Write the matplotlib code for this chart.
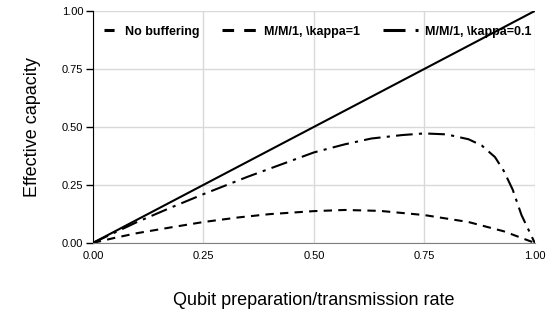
import matplotlib.pyplot as plt

plt.rcParams["font.family"] = ["Liberation Sans", "DejaVu Sans"]

# effective capacity vs. qubit rate
rate_nobuf = [0.0, 1.0]
cap_nobuf = [0.0, 1.0]

rate_k1 = [0.0, 0.05, 0.1, 0.18, 0.25, 0.33, 0.4, 0.5, 0.57, 0.65, 0.75, 0.85, 0.93, 1.0]
cap_k1 = [0.0, 0.022, 0.042, 0.068, 0.09, 0.11, 0.124, 0.137, 0.142, 0.138, 0.12, 0.09, 0.05, 0.0]

rate_k01 = [0.0, 0.05, 0.1, 0.18, 0.25, 0.35, 0.45, 0.5, 0.57, 0.63, 0.7, 0.75, 0.8, 0.85,
            0.88, 0.91, 0.93, 0.95, 0.97, 1.0]
cap_k01 = [0.0, 0.045, 0.09, 0.155, 0.21, 0.285, 0.355, 0.39, 0.425, 0.45, 0.465, 0.472,
           0.468, 0.447, 0.42, 0.37, 0.31, 0.23, 0.12, 0.0]

ticks = [0.0, 0.25, 0.5, 0.75, 1.0]

fig = plt.figure(figsize=(5.53, 3.23), dpi=100)
ax = fig.add_axes([0.168, 0.248, 0.799, 0.718])

ax.plot(rate_nobuf, cap_nobuf, color="black", lw=1.5, label="No buffering")
ax.plot(rate_k1, cap_k1, color="black", lw=1.5, ls=(0, (4, 3)), label="M/M/1, \\kappa=1")
ax.plot(rate_k01, cap_k01, color="black", lw=1.5, ls=(0, (8, 3, 1.5, 3)),
        label="M/M/1, \\kappa=0.1")

ax.set_xlim(0, 1)
ax.set_ylim(0, 1)
ax.set_xticks(ticks)
ax.set_yticks(ticks)
ax.set_xticklabels([f"{t:.2f}" for t in ticks])
ax.set_yticklabels([f"{t:.2f}" for t in ticks])
ax.grid(color="#d9d9d9", lw=1)
ax.set_axisbelow(True)

for s in ["top", "right"]:
    ax.spines[s].set_visible(False)
ax.spines["left"].set_color("black")
ax.spines["bottom"].set_color("#808080")
ax.tick_params(axis="y", length=5, width=1, labelsize=8, color="black", pad=2)
ax.tick_params(axis="x", length=0, labelsize=8, pad=6)

ax.set_xlabel("Qubit preparation/transmission rate", fontsize=13, labelpad=22)
ax.set_ylabel("Effective capacity", fontsize=13, labelpad=15)

leg = ax.legend(loc="upper center", ncol=3, frameon=False, handlelength=2.8,
                columnspacing=1.8, handletextpad=0.6,
                prop={"weight": "bold", "size": 9}, bbox_to_anchor=(0.485, 0.985))
# legend keys are short thick dashes, as in the original
key_styles = [(6.1, (3.3, 10)), (0, (3.8, 3.3)), (0, (7.2, 3.3, 1.0, 10))]
for h, st in zip(leg.get_lines(), key_styles):
    h.set_linewidth(2.2)
    h.set_linestyle(st)
    h.set_dash_capstyle("butt")

fig.savefig("out.png", dpi=100)
